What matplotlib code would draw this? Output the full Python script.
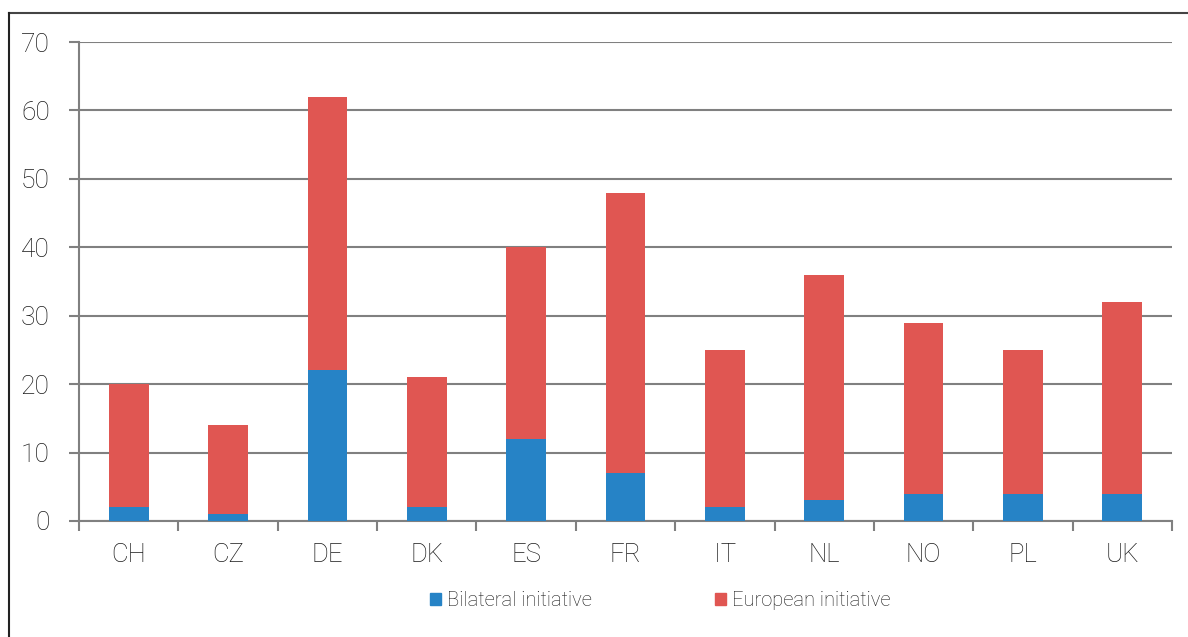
import matplotlib
matplotlib.use("Agg")
import matplotlib.pyplot as plt
from matplotlib.lines import Line2D
from matplotlib.patches import Patch
import numpy as np

countries = ["CH", "CZ", "DE", "DK", "ES", "FR", "IT", "NL", "NO", "PL", "UK"]
bilateral = [2, 1, 22, 2, 12, 7, 2, 3, 4, 4, 4]
european = [18, 13, 40, 19, 28, 41, 23, 33, 25, 21, 28]
y_ticks = [0, 10, 20, 30, 40, 50, 60, 70]

blue = "#2683C6"
red = "#E05652"
grey = "#808080"
text_color = "#1a1a1a"

plt.rcParams["font.family"] = ["Roboto", "DejaVu Sans"]
plt.rcParams["font.weight"] = "light"

fig = plt.figure(figsize=(11.88, 6.37), dpi=100)
ax = fig.add_axes([79 / 1188, 1 - 521 / 637, (1172 - 79) / 1188, (521 - 42) / 637])

x = np.arange(len(countries))
ax.bar(x, bilateral, width=0.4, color=blue, zorder=3)
ax.bar(x, european, width=0.4, bottom=bilateral, color=red, zorder=3)

ax.set_xlim(-0.5, len(countries) - 0.5)
ax.set_ylim(0, 70)
ax.set_yticks(y_ticks)
ax.yaxis.grid(True, color=grey, linewidth=1.5, zorder=0)
ax.tick_params(axis="y", length=7, width=1.5, color=grey, labelsize=19, pad=14, labelcolor=text_color)

ax.set_xticks(x)
ax.set_xticklabels(countries)
ax.set_xticks(np.arange(-0.5, len(countries)), minor=True)
ax.tick_params(axis="x", which="major", length=0, labelsize=18.5, pad=16, labelcolor=text_color)
ax.tick_params(axis="x", which="minor", length=7, width=1.5, color=grey, direction="out")

for side in ("top", "right"):
    ax.spines[side].set_visible(False)
for side in ("left", "bottom"):
    ax.spines[side].set_color(grey)
    ax.spines[side].set_linewidth(1.5)

handles = [Patch(color=blue, label="Bilateral initiative"),
           Patch(color=red, label="European initiative")]
leg = fig.legend(handles=handles, loc="center", bbox_to_anchor=(660 / 1188, 1 - 601 / 637),
                 ncol=2, frameon=False, fontsize=14.5, handlelength=0.55, handleheight=0.55,
                 handletextpad=0.3, columnspacing=6.1)
for t in leg.get_texts():
    t.set_color(text_color)

# outer frame (top and left edges)
fig.add_artist(Line2D([9 / 1188, 1], [1 - 13 / 637, 1 - 13 / 637], color="#444444", linewidth=1.5))
fig.add_artist(Line2D([9 / 1188, 9 / 1188], [0, 1 - 13 / 637], color="#222222", linewidth=1.5))

fig.savefig("out.png", dpi=100)
